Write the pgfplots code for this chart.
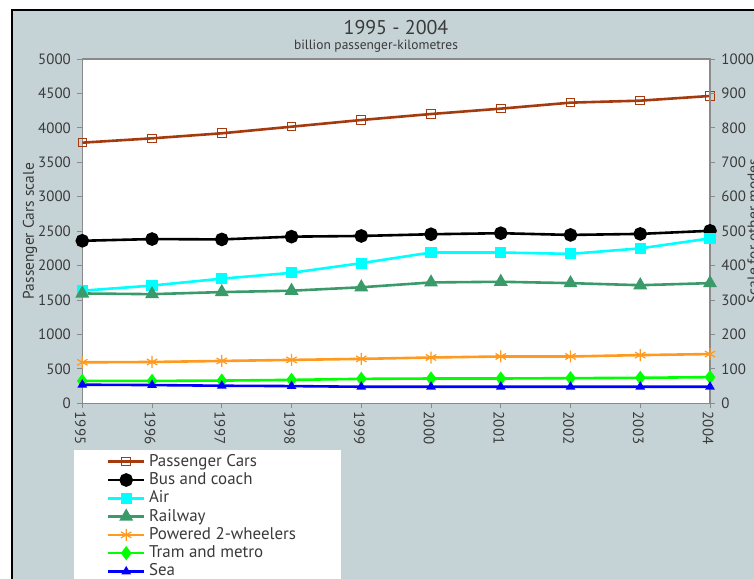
\documentclass[border=0pt]{standalone}
\usepackage{fontspec}
\setmainfont{PT Sans}
\usepackage{pgfplots}
\pgfplotsset{compat=1.18}
\definecolor{bg}{HTML}{C5D3D6}
\definecolor{cars}{HTML}{A63A0F}
\definecolor{aircol}{HTML}{00FFFF}
\definecolor{tramcol}{HTML}{00FF00}
\definecolor{seacol}{HTML}{0000FF}
\definecolor{rail}{HTML}{3A9A6A}
\definecolor{moto}{HTML}{FF9A1E}
\definecolor{txt}{HTML}{3A3A3A}
\definecolor{ax}{HTML}{8A8A8A}
\pgfplotsset{
  common/.style={
    at={(82.3bp,175.7bp)}, anchor=south west, scale only axis,
    width=627.7bp, height=344.3bp,
    xmin=1995, xmax=2004, clip=false,
    /pgf/number format/1000 sep={},
    /pgf/number format/assume math mode=true,
    tick align=outside, major tick length=5bp,
    tick style={ax, line width=0.8bp},
    axis line style={ax, line width=1.4bp},
    ticklabel style={txt, font=\fontsize{15}{17}\selectfont},
    label style={txt, font=\fontsize{15.5}{17}\selectfont},
  },
  series/.style={line width=2.6bp},
  legend image code/.code={
    \draw[mark repeat=2,mark phase=2,#1] plot coordinates {(0bp,0bp) (18bp,0bp) (36bp,0bp)};
  },
}
\begin{document}
\begin{tikzpicture}
\path[use as bounding box] (0bp,0bp) rectangle (754bp,579bp);
\clip (0bp,0bp) rectangle (754bp,579bp);
\fill[white] (0bp,0bp) rectangle (754bp,579bp);
\fill[bg] (12bp,0bp) rectangle (760bp,569bp);
\draw[black, line width=1.6bp] (12bp,-5bp) -- (12bp,569bp) -- (760bp,569bp);
\fill[white] (74bp,-5bp) rectangle (340.5bp,128.5bp);
\node[txt, font=\fontsize{20}{22}\selectfont] at (396bp,551bp) {1995 - 2004};
\node[txt, font=\fontsize{13.5}{15}\selectfont] at (376bp,532.5bp) {billion passenger-kilometres};

\begin{axis}[common,
  ymin=0, ymax=5000,
  axis background/.style={fill=white},
  xtick={1995,1996,...,2004},
  ytick={0,500,...,5000},
  tick pos=left,
  xticklabel style={rotate=-90, anchor=west, xshift=0bp, yshift=-2bp},
  yticklabel style={xshift=-3bp},
  ylabel={Passenger Cars scale},
  ylabel style={at={(axis description cs:-0.0833,0.5)}, anchor=center},
]
\addplot[series, cars, mark=square, mark size=4.3bp, mark options={fill=white, line width=1bp}]
  coordinates {(1995,3785) (1996,3848) (1997,3921) (1998,4017) (1999,4114)
               (2000,4201) (2001,4279) (2002,4366) (2003,4395) (2004,4463)};
\end{axis}

\begin{axis}[common,
  ymin=0, ymax=1000,
  axis x line=none, axis y line*=right,
  ytick={0,100,...,1000},
  yticklabel style={xshift=3bp},
  ylabel={Scale for other modes},
  ylabel style={at={(axis description cs:1.0685,0.5)}, anchor=center, rotate=0},
  legend style={at={(axis description cs:0.0389,-0.1458)}, anchor=north west,
    draw=none, fill=none, font=\fontsize{17}{19}\selectfont, text=txt,
    row sep=2.3bp, inner sep=0pt,
    nodes={inner sep=0pt, text height=12.5bp, text depth=3.5bp},
    /tikz/every odd column/.append style={column sep=3.5bp}},
  legend cell align=left,
]
\addlegendimage{series, cars, mark=square, mark size=4.3bp, mark options={fill=white, line width=1bp}}
\addlegendentry{Passenger Cars}
\addplot[series, black, mark=*, mark size=5.5bp]
  coordinates {(1995,472) (1996,477) (1997,476) (1998,484) (1999,486)
               (2000,491) (2001,494) (2002,489) (2003,492) (2004,501)};
\addlegendentry{Bus and coach}
\addplot[series, aircol, mark=square*, mark size=4.3bp]
  coordinates {(1995,327) (1996,342) (1997,362) (1998,379) (1999,407)
               (2000,438) (2001,438) (2002,434) (2003,450) (2004,479)};
\addlegendentry{Air}
\addplot[series, rail, mark=triangle*, mark size=5.5bp]
  coordinates {(1995,319) (1996,317) (1997,323) (1998,327) (1999,337)
               (2000,351) (2001,353) (2002,349) (2003,343) (2004,349)};
\addlegendentry{Railway}
\addplot[series, moto, mark=asterisk, mark size=6bp, mark options={line width=1.2bp}]
  coordinates {(1995,119) (1996,120) (1997,123) (1998,126) (1999,129)
               (2000,133) (2001,136) (2002,136) (2003,140) (2004,143)};
\addlegendentry{Powered 2-wheelers}
\addplot[series, tramcol, mark=diamond*, mark size=5bp]
  coordinates {(1995,65) (1996,65) (1997,66) (1998,68) (1999,71)
               (2000,72) (2001,72) (2002,73) (2003,74) (2004,76)};
\addlegendentry{Tram and metro}
\addplot[series, seacol, mark=triangle*, mark size=3bp]
  coordinates {(1995,54) (1996,53) (1997,51) (1998,50) (1999,48)
               (2000,48) (2001,48) (2002,48) (2003,48) (2004,48)};
\addlegendentry{Sea}
\end{axis}
\end{tikzpicture}
\end{document}
